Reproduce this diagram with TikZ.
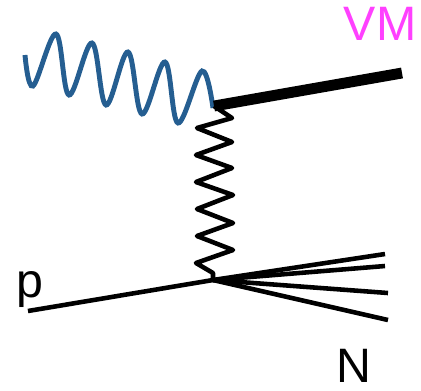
\documentclass[tikz,border=0pt]{standalone}
\usepackage{fontspec}
\setmainfont{Liberation Sans}
\usepackage{xcolor}
\definecolor{photonblue}{RGB}{37,94,145}
\definecolor{vmpink}{RGB}{255,64,255}
\tikzset{
    particle/.style={draw=black, line width=2.6pt},
    biglabel/.style={font=\fontsize{27.5}{28}\selectfont, inner sep=0pt},
}

\begin{document}
\begin{tikzpicture}[x=0.02cm, y=-0.02cm]
    \useasboundingbox (0,0) rectangle (421,390);

    % Vertices
    \coordinate (top) at (214,106);
    \coordinate (bottom) at (213,280);

    % Photon
    \draw[photonblue, line width=2.8pt, line cap=butt] plot[smooth, tension=0.6] coordinates {
        (25,55) (33,86) (56,34) (69,95) (92,43) (106,105)
        (128,52) (142,114) (165,62) (178,123) (202,71) (213,108)
    };

    % Pomeron
    \draw[particle, line join=round] (top) -- (232,118) -- (197,128) -- (232,142) -- (196,155)
        -- (232,168) -- (196,182) -- (233,195) -- (197,209) -- (233,223) -- (197,236)
        -- (233,250) -- (196,263) -- (213,273) -- (bottom);

    % Vector meson
    \coordinate (vmend) at (402,73);
    \draw[draw=black, line width=6.2pt] (top) -- (vmend);
    \node[vmpink, biglabel] (vm) at (380,24) {VM};

    % Proton
    \coordinate (pstart) at (28,311);
    \draw[particle] (pstart) -- (bottom);
    \node[biglabel] (p) at (30,290) {p};

    % Remnant
    \coordinate (na) at (385,254);
    \coordinate (nb) at (385,266);
    \coordinate (nc) at (388,293);
    \coordinate (nd) at (388,320);
    \foreach \n in {na, nb, nc, nd} {
        \draw[particle] (bottom) -- (\n);
    }
    \node[biglabel] (n) at (354,366) {N};
\end{tikzpicture}
\end{document}
